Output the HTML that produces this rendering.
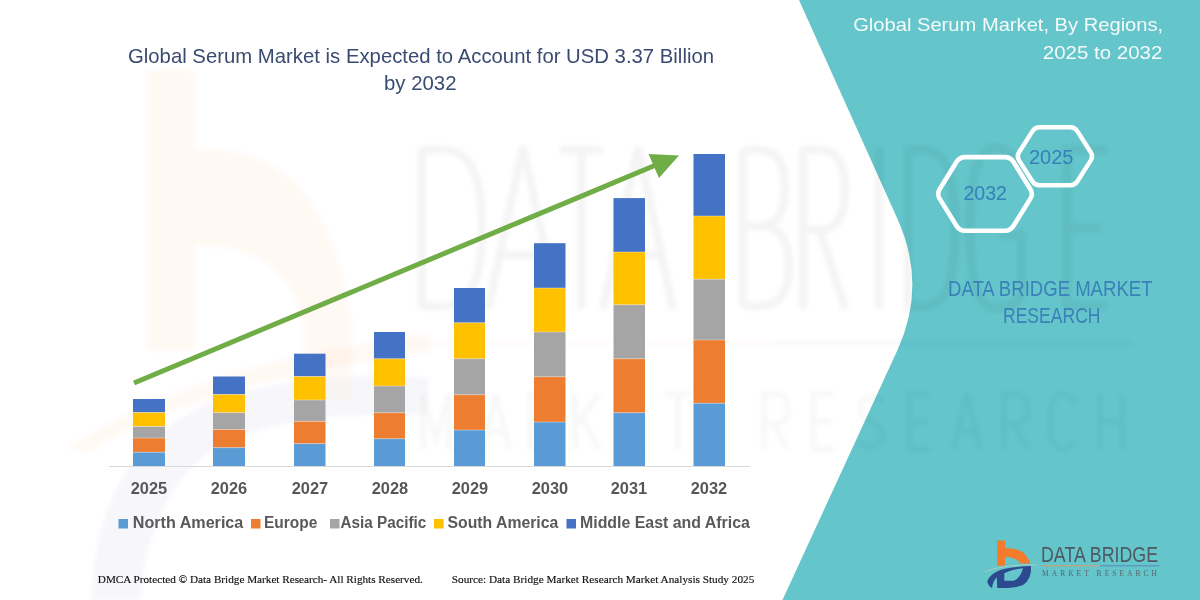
<!DOCTYPE html>
<html><head><meta charset="utf-8">
<style>
html,body{margin:0;padding:0;background:#fff;}
body{width:1200px;height:600px;overflow:hidden;position:relative;}
svg{position:absolute;left:0;top:0;}
</style></head>
<body>
<svg width="1200" height="600" viewBox="0 0 1200 600">
<rect x="0" y="0" width="1200" height="600" fill="#ffffff"/>
<!-- teal panel -->
<path d="M799,0 L1200,0 L1200,600 L782.5,600 L897.5,350 Q927.3,285.2 897.5,218.9 Z" fill="#64C5CA"/>

<!-- watermark -->
<defs><filter id="bl" x="-5%" y="-5%" width="110%" height="110%"><feGaussianBlur stdDeviation="2"/></filter></defs>
<g filter="url(#bl)">
<path d="M147,70 L195,70 L195,150 Q330,140 352,330 L352,400 L305,400 L305,330 Q290,245 195,245 L195,350 L147,350 Z" fill="#F47B20" opacity="0.045"/>
<path d="M68,448 Q190,365 430,333 L430,352 Q215,378 88,452 Z" fill="#F47B20" opacity="0.045"/>
<path d="M92,600 Q95,440 230,395 Q330,370 430,378 L425,415 Q310,410 230,440 Q150,480 140,600 Z" fill="#2E4A8C" opacity="0.03"/>
<path d="M422,150 L422,306 L445,306 Q482,306 482,228 Q482,150 445,150 Z M488,309 L523,147 L558,309 M500,255 L546,255 M560,150 L603,150 M581.5,150 L581.5,309 M603,309 L638,147 L673,309 M615,255 L661,255 M743,150 L743,306 M743,150 L760,150 Q785,150 785,188 Q785,226 760,226 L743,226 M760,226 Q789,226 789,266 Q789,306 760,306 L743,306 M803,309 L803,150 L820,150 Q845,150 845,190 Q845,230 820,230 L803,230 M820,230 L845,309 M879,147 L879,309 M908,150 L908,306 L925,306 Q955,306 955,228 Q955,150 925,150 Z M1020,165 Q1008,148 995,148 Q970,148 970,228 Q970,308 995,308 Q1020,308 1022,290 L1022,235 L1000,235 M1107,150 L1067,150 L1067,306 L1107,306 M1067,228 L1100,228" fill="none" stroke="#000" stroke-width="8" opacity="0.042"/>
<rect x="405" y="341.5" width="370" height="3" fill="#F47B20" opacity="0.04"/>
<rect x="775" y="341.5" width="357" height="3" fill="#2E4A8C" opacity="0.045"/>
<path d="M423,449 L423,394 L436,439 L449,394 L449,449 M483,449 L496,394 L509,449 M489,431.5 L503,431.5 M530,449 L530,394 L541,394 Q554,394 554,409.5 Q554,423.5 541,423.5 L530,423.5 M539,423.5 L554,449 M575,394 L575,449 M599,394 L575,426.5 M582,417.5 L599,449 M643,394 L622,394 L622,449 L643,449 M622,421.5 L641,421.5 M665,394 L691,394 M678,394 L678,449 M764,449 L764,394 L775,394 Q788,394 788,409.5 Q788,423.5 775,423.5 L764,423.5 M773,423.5 L788,449 M834,394 L813,394 L813,449 L834,449 M813,421.5 L832,421.5 M882,402 Q871,390 861,404 Q858,417.5 871,421.5 Q885,427.5 882,439 Q871,454 859,441 M930,394 L909,394 L909,449 L930,449 M909,421.5 L928,421.5 M954,449 L967,394 L980,449 M960,431.5 L974,431.5 M1004,449 L1004,394 L1015,394 Q1028,394 1028,409.5 Q1028,423.5 1015,423.5 L1004,423.5 M1013,423.5 L1028,449 M1076,402 Q1067,394 1063,394 Q1050,394 1050,421.5 Q1050,449 1063,449 Q1067,449 1076,441 M1100,394 L1100,449 M1122,394 L1122,449 M1100,421.5 L1122,421.5 " fill="none" stroke="#000" stroke-width="5" opacity="0.032"/>
</g>
<!-- title -->
<g font-family="Liberation Sans, sans-serif" fill="#3A4B72">
<text x="128" y="62.7" font-size="20.8" textLength="586" lengthAdjust="spacingAndGlyphs">Global Serum Market is Expected to Account for USD 3.37 Billion</text>
<text x="384" y="89.7" font-size="20.8" textLength="72.5" lengthAdjust="spacingAndGlyphs">by 2032</text>
</g>
<!-- axis -->
<rect x="109" y="466" width="641" height="1" fill="#D9D9D9"/>
<rect x="133" y="399" width="32" height="13.5" fill="#4472C4"/>
<rect x="133" y="412.5" width="32" height="14.0" fill="#FFC000"/>
<rect x="133" y="426.5" width="32" height="11.5" fill="#A5A5A5"/>
<rect x="133" y="438" width="32" height="14.2" fill="#ED7D31"/>
<rect x="133" y="452.2" width="32" height="13.8" fill="#5B9BD5"/>
<rect x="133" y="412.1" width="32" height="0.8" fill="#fff" opacity="0.45"/>
<rect x="133" y="426.1" width="32" height="0.8" fill="#fff" opacity="0.45"/>
<rect x="133" y="437.6" width="32" height="0.8" fill="#fff" opacity="0.45"/>
<rect x="133" y="451.8" width="32" height="0.8" fill="#fff" opacity="0.45"/>
<rect x="213" y="376.5" width="32" height="18.0" fill="#4472C4"/>
<rect x="213" y="394.5" width="32" height="18.2" fill="#FFC000"/>
<rect x="213" y="412.7" width="32" height="16.8" fill="#A5A5A5"/>
<rect x="213" y="429.5" width="32" height="18.2" fill="#ED7D31"/>
<rect x="213" y="447.7" width="32" height="18.3" fill="#5B9BD5"/>
<rect x="213" y="394.1" width="32" height="0.8" fill="#fff" opacity="0.45"/>
<rect x="213" y="412.3" width="32" height="0.8" fill="#fff" opacity="0.45"/>
<rect x="213" y="429.1" width="32" height="0.8" fill="#fff" opacity="0.45"/>
<rect x="213" y="447.3" width="32" height="0.8" fill="#fff" opacity="0.45"/>
<rect x="294" y="353.7" width="31.5" height="22.8" fill="#4472C4"/>
<rect x="294" y="376.5" width="31.5" height="23.5" fill="#FFC000"/>
<rect x="294" y="400" width="31.5" height="21.3" fill="#A5A5A5"/>
<rect x="294" y="421.3" width="31.5" height="22.4" fill="#ED7D31"/>
<rect x="294" y="443.7" width="31.5" height="22.3" fill="#5B9BD5"/>
<rect x="294" y="376.1" width="31.5" height="0.8" fill="#fff" opacity="0.45"/>
<rect x="294" y="399.6" width="31.5" height="0.8" fill="#fff" opacity="0.45"/>
<rect x="294" y="420.9" width="31.5" height="0.8" fill="#fff" opacity="0.45"/>
<rect x="294" y="443.3" width="31.5" height="0.8" fill="#fff" opacity="0.45"/>
<rect x="374" y="332" width="31" height="26.8" fill="#4472C4"/>
<rect x="374" y="358.8" width="31" height="27.2" fill="#FFC000"/>
<rect x="374" y="386" width="31" height="26.8" fill="#A5A5A5"/>
<rect x="374" y="412.8" width="31" height="26.0" fill="#ED7D31"/>
<rect x="374" y="438.8" width="31" height="27.2" fill="#5B9BD5"/>
<rect x="374" y="358.4" width="31" height="0.8" fill="#fff" opacity="0.45"/>
<rect x="374" y="385.6" width="31" height="0.8" fill="#fff" opacity="0.45"/>
<rect x="374" y="412.4" width="31" height="0.8" fill="#fff" opacity="0.45"/>
<rect x="374" y="438.4" width="31" height="0.8" fill="#fff" opacity="0.45"/>
<rect x="454" y="288" width="31" height="34.8" fill="#4472C4"/>
<rect x="454" y="322.8" width="31" height="36.0" fill="#FFC000"/>
<rect x="454" y="358.8" width="31" height="36.0" fill="#A5A5A5"/>
<rect x="454" y="394.8" width="31" height="35.2" fill="#ED7D31"/>
<rect x="454" y="430" width="31" height="36" fill="#5B9BD5"/>
<rect x="454" y="322.4" width="31" height="0.8" fill="#fff" opacity="0.45"/>
<rect x="454" y="358.4" width="31" height="0.8" fill="#fff" opacity="0.45"/>
<rect x="454" y="394.4" width="31" height="0.8" fill="#fff" opacity="0.45"/>
<rect x="454" y="429.6" width="31" height="0.8" fill="#fff" opacity="0.45"/>
<rect x="534" y="243.2" width="31.5" height="44.8" fill="#4472C4"/>
<rect x="534" y="288" width="31.5" height="44" fill="#FFC000"/>
<rect x="534" y="332" width="31.5" height="44.8" fill="#A5A5A5"/>
<rect x="534" y="376.8" width="31.5" height="45.2" fill="#ED7D31"/>
<rect x="534" y="422" width="31.5" height="44" fill="#5B9BD5"/>
<rect x="534" y="287.6" width="31.5" height="0.8" fill="#fff" opacity="0.45"/>
<rect x="534" y="331.6" width="31.5" height="0.8" fill="#fff" opacity="0.45"/>
<rect x="534" y="376.4" width="31.5" height="0.8" fill="#fff" opacity="0.45"/>
<rect x="534" y="421.6" width="31.5" height="0.8" fill="#fff" opacity="0.45"/>
<rect x="613.5" y="198.1" width="31.5" height="53.9" fill="#4472C4"/>
<rect x="613.5" y="252" width="31.5" height="52.8" fill="#FFC000"/>
<rect x="613.5" y="304.8" width="31.5" height="54.0" fill="#A5A5A5"/>
<rect x="613.5" y="358.8" width="31.5" height="54.0" fill="#ED7D31"/>
<rect x="613.5" y="412.8" width="31.5" height="53.2" fill="#5B9BD5"/>
<rect x="613.5" y="251.6" width="31.5" height="0.8" fill="#fff" opacity="0.45"/>
<rect x="613.5" y="304.4" width="31.5" height="0.8" fill="#fff" opacity="0.45"/>
<rect x="613.5" y="358.4" width="31.5" height="0.8" fill="#fff" opacity="0.45"/>
<rect x="613.5" y="412.4" width="31.5" height="0.8" fill="#fff" opacity="0.45"/>
<rect x="693.5" y="154" width="31.5" height="62" fill="#4472C4"/>
<rect x="693.5" y="216" width="31.5" height="63.2" fill="#FFC000"/>
<rect x="693.5" y="279.2" width="31.5" height="60.8" fill="#A5A5A5"/>
<rect x="693.5" y="340" width="31.5" height="63.2" fill="#ED7D31"/>
<rect x="693.5" y="403.2" width="31.5" height="62.8" fill="#5B9BD5"/>
<rect x="693.5" y="215.6" width="31.5" height="0.8" fill="#fff" opacity="0.45"/>
<rect x="693.5" y="278.8" width="31.5" height="0.8" fill="#fff" opacity="0.45"/>
<rect x="693.5" y="339.6" width="31.5" height="0.8" fill="#fff" opacity="0.45"/>
<rect x="693.5" y="402.8" width="31.5" height="0.8" fill="#fff" opacity="0.45"/>
<!-- arrow -->
<line x1="134" y1="383" x2="656" y2="165" stroke="#70AD47" stroke-width="5"/>
<polygon points="648.5,154 679,155.5 659,178" fill="#70AD47"/>
<!-- year labels -->
<g font-family="Liberation Sans, sans-serif" font-weight="bold" font-size="15.6" fill="#575757" text-anchor="middle">
<text x="149" y="494" textLength="36.5" lengthAdjust="spacingAndGlyphs">2025</text><text x="229" y="494" textLength="36.5" lengthAdjust="spacingAndGlyphs">2026</text><text x="310" y="494" textLength="36.5" lengthAdjust="spacingAndGlyphs">2027</text><text x="390" y="494" textLength="36.5" lengthAdjust="spacingAndGlyphs">2028</text>
<text x="470" y="494" textLength="36.5" lengthAdjust="spacingAndGlyphs">2029</text><text x="550" y="494" textLength="36.5" lengthAdjust="spacingAndGlyphs">2030</text><text x="629" y="494" textLength="36.5" lengthAdjust="spacingAndGlyphs">2031</text><text x="709" y="494" textLength="36.5" lengthAdjust="spacingAndGlyphs">2032</text>
</g>
<!-- legend -->
<g font-family="Liberation Sans, sans-serif" font-weight="bold" font-size="16" fill="#595959">
<rect x="118.5" y="519" width="9.5" height="9.5" fill="#5B9BD5"/><text x="132.8" y="528.3" textLength="110.5" lengthAdjust="spacingAndGlyphs">North America</text>
<rect x="251" y="519" width="9.5" height="9.5" fill="#ED7D31"/><text x="264" y="528.3" textLength="53.3" lengthAdjust="spacingAndGlyphs">Europe</text>
<rect x="330" y="519" width="9.5" height="9.5" fill="#A5A5A5"/><text x="340.5" y="528.3" textLength="85.8" lengthAdjust="spacingAndGlyphs">Asia Pacific</text>
<rect x="434" y="519" width="9.5" height="9.5" fill="#FFC000"/><text x="447.5" y="528.3" textLength="110.8" lengthAdjust="spacingAndGlyphs">South America</text>
<rect x="566.5" y="519" width="9.5" height="9.5" fill="#4472C4"/><text x="580" y="528.3" textLength="169.8" lengthAdjust="spacingAndGlyphs">Middle East and Africa</text>
</g>
<!-- footer -->
<g font-family="Liberation Serif, serif" font-size="10.5" fill="#111" stroke="#111" stroke-width="0.15">
<text x="97.8" y="582.6" textLength="325" lengthAdjust="spacingAndGlyphs">DMCA Protected © Data Bridge Market Research-  All Rights Reserved.</text>
<text x="451.8" y="582.6" textLength="302.5" lengthAdjust="spacingAndGlyphs">Source: Data Bridge Market Research  Market Analysis Study 2025</text>
</g>
<!-- right panel text -->
<g font-family="Liberation Sans, sans-serif" fill="#F4FAFA" font-size="18.5">
<text x="853.2" y="31" textLength="310" lengthAdjust="spacingAndGlyphs">Global Serum Market, By Regions,</text>
<text x="1042.8" y="58.8" textLength="119.5" lengthAdjust="spacingAndGlyphs">2025 to 2032</text>
</g>
<!-- hexagons -->
<g fill="none" stroke="#ffffff" stroke-width="4.6">
<path d="M939.6,189.2 L956.6,161.8 Q959.5,157.1 965.0,157.1 L1005.0,157.1 Q1010.5,157.1 1013.4,161.8 L1030.4,189.2 Q1033.3,193.9 1030.4,198.6 L1013.4,226.0 Q1010.5,230.7 1005.0,230.7 L965.0,230.7 Q959.5,230.7 956.6,226.0 L939.6,198.6 Q936.7,193.9 939.6,189.2 Z"/>
<path d="M1018.9,152.5 L1032.5,131.1 Q1034.9,127.3 1039.4,127.3 L1070.4,127.3 Q1074.9,127.3 1077.3,131.1 L1090.9,152.5 Q1093.3,156.3 1090.9,160.1 L1077.3,181.5 Q1074.9,185.3 1070.4,185.3 L1039.4,185.3 Q1034.9,185.3 1032.5,181.5 L1018.9,160.1 Q1016.5,156.3 1018.9,152.5 Z" stroke-width="4.4"/>
</g>
<g font-family="Liberation Sans, sans-serif" fill="#3380BA" font-size="20">
<text x="963.5" y="200.4" textLength="43.5" lengthAdjust="spacingAndGlyphs">2032</text>
<text x="1029" y="164.3" textLength="44.5" lengthAdjust="spacingAndGlyphs">2025</text>
</g>
<g font-family="Liberation Sans, sans-serif" fill="#3A80B9" font-size="21.3">
<text x="948" y="296.2" textLength="204.5" lengthAdjust="spacingAndGlyphs">DATA BRIDGE MARKET</text>
<text x="1003" y="323.2" textLength="97.5" lengthAdjust="spacingAndGlyphs">RESEARCH</text>
</g>

<!-- logo -->
<path d="M997.2,540.5 L1005,540.5 L1005,548.3 Q1021,547.5 1026,555.8 Q1029.5,560 1030.2,563.6 L1020,563.6 Q1017,557 1005,556.7 L1005,565.5 L997.2,566 Z" fill="#F47A2C"/>
<path d="M992,588.3 Q985,583 988.5,578.5 Q994,571 1005,568.8 Q1016,566.5 1031,566 Q1032,579 1023,585 Q1016,588 1008,588 L997.3,588 L996.8,577.5 Q993,580.5 992,588.3 Z M1004.3,573.3 Q1012,569.3 1023,568.2 Q1021,577 1014,580.8 L1004.3,580.8 Z" fill="#2D4A8E" fill-rule="evenodd"/>
<path d="M985,571.5 Q1006,564 1037,564.8" stroke="#EBD3C2" stroke-width="1" fill="none" opacity="0.55"/>
<text x="1041" y="562.3" font-family="Liberation Sans, sans-serif" font-size="21.5" textLength="117" lengthAdjust="spacingAndGlyphs" fill="#4E5962">DATA BRIDGE</text>
<rect x="1041.4" y="565.3" width="58.6" height="1" fill="#E09A6A"/>
<rect x="1100" y="565.3" width="59.5" height="1" fill="#5F86BE"/>
<text x="1042" y="576" font-family="Liberation Serif, serif" font-size="7.5" textLength="115" lengthAdjust="spacing" fill="#5A6670">MARKET  RESEARCH</text>
</svg>
</body></html>
